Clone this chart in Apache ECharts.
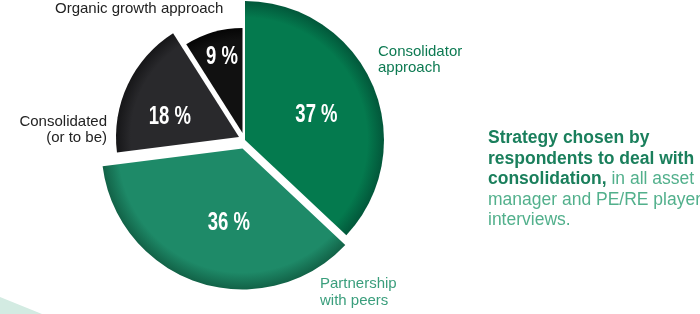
<!DOCTYPE html>
<html>
<head>
<meta charset="utf-8">
<script src="https://cdn.jsdelivr.net/npm/echarts@6/dist/echarts.min.js"></script>
<style>
html,body{margin:0;padding:0;background:#fff;}
#chart{width:700px;height:314px;}
</style>
</head>
<body>
<div id="chart"></div>
<script>
// ---- data ----
var categories = ['Consolidator\napproach', 'Partnership\nwith peers', 'Consolidated\n(or to be)', 'Organic growth approach'];
var values = [37, 36, 18, 9];
var sliceColors = ['#047a4e', '#1e8a68', '#29292c', '#111111'];
var edgeColors = ['#02573a', '#126247', '#161618', '#050505'];
var captionBold = ['Strategy chosen by', 'respondents to deal with', 'consolidation,'];
var captionNormal = [' in all asset', 'manager and PE/RE player', 'interviews.'];

// ---- layout (per slice geometry: pie centre, radius, value-label radial fraction / angle shift) ----
var geom = [
  {c: [245, 140], r: 139, f: 0.55, da: -2.5},
  {c: [242.5, 148.5], r: 141, f: 0.52, da: 7.3},
  {c: [239, 137], r: 123, f: 0.59, da: 7.5},
  {c: [242.5, 133], r: 105, f: 0.77, da: -1.5}
];
var START_ANGLE = 90;

var chart = echarts.init(document.getElementById('chart'), null, {renderer: 'canvas'});

var total = values.reduce(function (a, b) { return a + b; }, 0);

var series = geom.map(function (g, i) {
  return {
    type: 'pie',
    center: g.c,
    radius: [0, g.r],
    startAngle: START_ANGLE,
    clockwise: true,
    silent: true,
    animation: false,
    label: {show: false},
    labelLine: {show: false},
    emphasis: {disabled: true},
    data: values.map(function (v, j) {
      return {
        value: v,
        name: categories[j],
        itemStyle: {
          color: j === i ? {
            type: 'radial', x: g.c[0], y: g.c[1], r: g.r, global: true,
            colorStops: [
              {offset: 0, color: sliceColors[j]},
              {offset: 0.88, color: sliceColors[j]},
              {offset: 1, color: edgeColors[j]}
            ]
          } : 'rgba(0,0,0,0)',
          borderWidth: 0
        }
      };
    })
  };
});

// value labels (condensed look via horizontal scaling), placed at each slice's mid angle
var cum = 0;
var valueLabels = values.map(function (v, i) {
  var g = geom[i];
  var mid = START_ANGLE - 360 * (cum + v / 2) / total + g.da;
  cum += v;
  var rad = mid * Math.PI / 180;
  var R = g.f * g.r;
  return {
    type: 'text',
    x: g.c[0] + R * Math.cos(rad),
    y: g.c[1] - R * Math.sin(rad),
    scaleX: 0.74,
    z: 100,
    zlevel: 1,
    silent: true,
    style: {
      x: 0, y: 2.5,
      text: v + ' %',
      align: 'center',
      verticalAlign: 'middle',
      font: 'bold 25px "Liberation Sans", Arial, sans-serif',
      fill: '#ffffff'
    }
  };
});

var richText = captionBold.slice(0, 2).map(function (s) { return '{b|' + s + '}'; }).join('\n') +
  '\n{b|' + captionBold[2] + '}{n|' + captionNormal[0] + '}\n{n|' + captionNormal[1] + '}\n{n|' + captionNormal[2] + '}';

var labelFont = 'Liberation Sans, Arial, sans-serif';

chart.setOption({
  backgroundColor: '#ffffff',
  series: series,
  graphic: [
    {type: 'polygon', shape: {points: [[0, 297], [42, 314], [0, 314]]}, style: {fill: '#d3ebe2'}, silent: true},
    {type: 'text', style: {x: 55, y: 1, text: categories[3], font: '15px ' + labelFont, fill: '#222222'}},
    {type: 'text', style: {x: 107, y: 114, text: categories[2], font: '15px ' + labelFont, fill: '#222222', align: 'right', lineHeight: 16}},
    {type: 'text', style: {x: 378, y: 44, text: categories[0], font: '15px ' + labelFont, fill: '#0d7a52', lineHeight: 16}},
    {type: 'text', style: {x: 320, y: 275, text: categories[1], font: '15px ' + labelFont, fill: '#3a9e7c', lineHeight: 17}},
    {type: 'text', style: {
      x: 488, y: 128,
      text: richText,
      rich: {
        b: {font: 'bold 17.5px ' + labelFont, fill: '#1a7f5c', lineHeight: 20.5},
        n: {font: '17.5px ' + labelFont, fill: '#52b08c', lineHeight: 20.5}
      }
    }}
  ].concat(valueLabels)
});
</script>
</body>
</html>
